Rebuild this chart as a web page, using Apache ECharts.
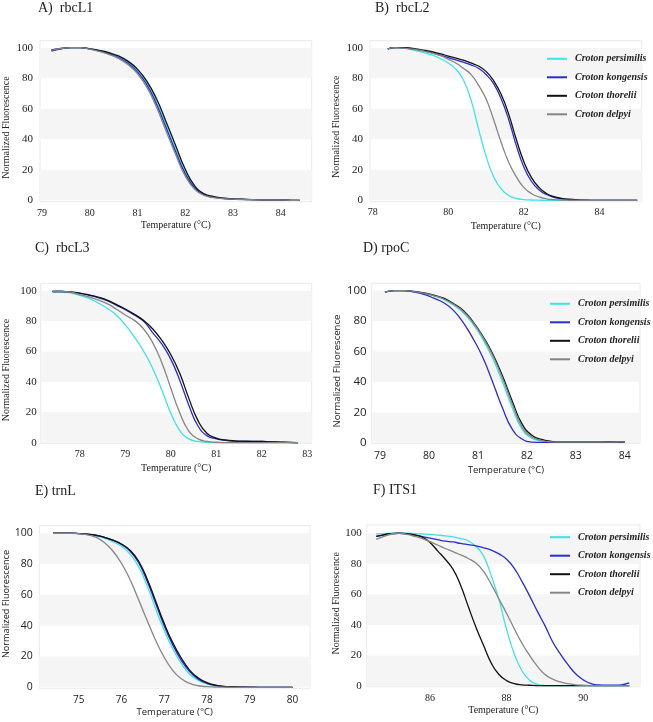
<!DOCTYPE html>
<html>
<head>
<meta charset="utf-8">
<script src="https://cdn.jsdelivr.net/npm/echarts@6/dist/echarts.min.js"></script>
<style>
html,body{margin:0;padding:0;background:#fff;}
#chart{width:653px;height:722px;}
</style>
</head>
<body>
<div id="chart"></div>
<script>
// ---------------- DATA ----------------
const seriesNames = ['Croton persimilis', 'Croton kongensis', 'Croton thorelii', 'Croton delpyi'];
const yTicks = [0, 20, 40, 60, 80, 100];

// A) rbcL1
const tempA = [79.2,79.4,79.6,79.8,80.0,80.2,80.4,80.6,80.8,81.0,81.2,81.4,81.6,81.8,82.0,82.2,82.4,82.6,82.8,83.0,83.2,83.4,83.6,83.8,84.0,84.2,84.4];
const persimilisA = [98.5,99.6,100,100,99.2,98,96.4,94,90.5,85,76.5,64.5,49,33.5,18.5,8.5,3.8,2.2,1.3,0.9,0.6,0.4,0.3,0.2,0.1,0.05,0];
const kongensisA  = [97.8,99.3,100,100,99.2,97.8,96,93.5,89.8,84.2,75.5,63,47.5,32,17.5,8,3.5,2,1.2,0.8,0.6,0.4,0.3,0.2,0.1,0.05,0];
const thoreliiA   = [98.5,99.5,100,100,99.3,98.3,96.8,94.6,91.2,86,78,66.5,51.5,36,20.5,9.5,4.2,2.5,1.5,1.0,0.7,0.5,0.3,0.2,0.1,0.05,0];
const delpyiA     = [98.3,99.5,100,100,99.1,97.6,95.6,93,89,83,74,61,45.5,30,16,7.2,3.2,1.8,1.1,0.8,0.5,0.4,0.3,0.2,0.1,0.05,0];
const xTicksA = [79, 80, 81, 82, 83, 84];

// B) rbcL2
const tempB = [78.4,78.6,78.8,79.0,79.2,79.4,79.6,79.8,80.0,80.2,80.4,80.6,80.8,81.0,81.2,81.4,81.6,81.8,82.0,82.2,82.4,82.6,82.8,83.0,83.2,83.4,83.6,83.8,84.0,84.2,84.4,84.6,84.8,85.0];
const persimilisB = [99.3,100,99.8,99,97.8,96.5,95,92.8,90,86,79,66,47,29,15.5,7.5,3.2,1.3,0.5,0.2,0.1,0,0,0,0,0,0,0,0,0,0,0,0,0];
const kongensisB  = [99.3,100,100,99.5,98.8,97.8,96.5,95,93.5,92,90.5,88.8,86.5,82.5,76.5,66.5,53,36,22,12.5,7,3.8,2,1,0.5,0.2,0,0,0,0,0,0,0,0];
const thoreliiB   = [99.3,100,100,99.7,99,98.2,97.2,96,94.5,93.2,91.8,90,88,84.5,78.5,69.5,56.5,40,25.5,15,8.5,4.5,2.4,1.3,0.7,0.3,0.1,0,0,0,0,0,0,0];
const delpyiB     = [99.3,100,99.8,99.2,98.5,97.5,96.3,94.8,92.5,90,86.5,82.5,75.5,66.5,53,38,25,15.5,8.5,4.5,2.2,1,0.4,0.2,0.1,0,0,0,0,0,0,0,0,0];
const xTicksB = [78, 80, 82, 84];

// C) rbcL3
const tempC = [77.4,77.6,77.8,78.0,78.2,78.4,78.6,78.8,79.0,79.2,79.4,79.6,79.8,80.0,80.2,80.4,80.6,80.8,81.0,81.2,81.4,81.6,81.8,82.0,82.2,82.4,82.6,82.8];
const persimilisC = [99.5,99.5,98.5,97,95,92,88.5,84,77.5,69.5,60.5,49,35,19.5,8,2.5,0.8,0.3,0,0,0,0,0,0,0,0,0,0];
const kongensisC  = [99.5,99.5,99.2,98.3,97,95.5,93.5,90.5,87.5,84,80,72.5,65,55,41,24.5,11,4.5,2.5,1.5,1,0.8,0.8,0.8,0.5,0.3,0.2,0];
const thoreliiC   = [99.5,99.5,99.2,98.5,97.3,95.8,93.8,91,88,84.5,80.5,75,67.5,58,45.5,29,14.5,6,3,1.8,1.2,1,0.9,0.9,0.6,0.4,0.2,0];
const delpyiC     = [99.5,99.5,99,97.5,96,94,91.5,88,84,80.5,75,66,53,36,19.5,7.5,2.5,0.8,0.3,0,0,0,0,0,0,0,0,0];
const xTicksC = [78, 79, 80, 81, 82, 83];

// D) rpoC
const tempD = [79.1,79.3,79.5,79.7,79.9,80.1,80.3,80.5,80.7,80.9,81.1,81.3,81.5,81.7,81.9,82.1,82.3,82.5,82.7,82.9,83.1,83.3,83.5,83.7,83.9,84.0];
const persimilisD = [99,100,100,99.3,98.2,96.5,94.2,90.5,85.5,78,68,55.5,40,23,9,3,1.2,0.6,0.4,0.4,0.4,0.4,0.4,0.5,0.5,0.6];
const kongensisD  = [99,100,100,99,97.5,95,92,87,79,68.5,56,40,23,9,2.5,0.5,0.3,0.3,0.3,0.3,0.3,0.3,0.3,0.4,0.4,0.5];
const thoreliiD   = [99,100,100,99.5,98.5,97,95,91.5,87,79.5,70,58.5,44,27.5,12.5,5,2.2,1,0.5,0.5,0.5,0.5,0.5,0.6,0.7,0.8];
const delpyiD     = [99,100,100,99.4,98.3,96.7,94.5,91,86.3,79,69.5,57.5,42.5,25.5,10.5,3.8,1.5,0.7,0.5,0.5,0.5,0.5,0.5,0.5,0.6,0.7];
const xTicksD = [79, 80, 81, 82, 83, 84];

// E) trnL
const tempE = [74.4,74.6,74.8,75.0,75.2,75.4,75.6,75.8,76.0,76.2,76.4,76.6,76.8,77.0,77.2,77.4,77.6,77.8,78.0,78.2,78.4,78.6,78.8,79.0,79.2,79.4,79.6,79.8,80.0];
const persimilisE = [100,100,100,99.8,99.3,98.4,96.8,94.5,91.5,86.5,78.5,66,51,37,25,15.5,8.5,4.5,2.2,1,0.4,0.2,0.1,0,0,0,0,0,0];
const kongensisE  = [100,100,100,99.8,99.4,98.7,97.4,95.5,92.8,88.5,81,69,54.5,40,27.5,17.5,10,5.3,2.6,1.2,0.5,0.2,0.1,0,0,0,0,0,0];
const thoreliiE   = [100,100,100,99.8,99.4,98.7,97.4,95.5,93,89,82,70.5,56,41.5,29,19,11,6,3,1.4,0.6,0.3,0.1,0.1,0,0,0,0,0];
const delpyiE     = [100,100,100,99.8,99,97.5,94,88.5,80.5,70,57,43.5,30.5,19.5,11,5.5,2.5,1,0.4,0.2,0.1,0,0,0,0,0,0,0,0];
const xTicksE = [75, 76, 77, 78, 79, 80];

// F) ITS1
const tempF = [84.6,84.8,85.0,85.2,85.4,85.6,85.8,86.0,86.2,86.4,86.6,86.8,87.0,87.2,87.4,87.6,87.8,88.0,88.2,88.4,88.6,88.8,89.0,89.2,89.4,89.6,89.8,90.0,90.2,90.4,90.6,90.8,91.0,91.2];
const persimilisF = [99.5,99.8,100,100,100,99.8,99.5,99.2,98.8,98.3,97.6,96.5,95,91.5,85,72,56.5,37,21,10,3.8,1,0.3,0.2,0.2,0.2,0.2,0.2,0.2,0.2,0.2,0.2,0.2,0.2];
const kongensisF  = [98,99,99.8,100,99.5,98.8,97.8,96.8,95.8,94.8,94.3,93.3,92.5,91.7,90.5,89,86.5,83,77,68.5,59,49,39.5,29,21,14,8,4,1.5,0.7,0.5,0.5,0.8,2];
const thoreliiF   = [98,99,99.8,100,99.8,99,97.5,94,88.5,83,76.5,66,52,38.5,26.5,15,7.5,3.5,1.6,0.8,0.5,0.3,0.3,0.3,0.3,0.3,0.3,0.3,0.3,0.3,0.3,0.3,0.3,0.3];
const delpyiF     = [96,98,99.5,100,99.3,98,96.5,94.5,92.3,90,88,85.8,83.5,80.5,75,66.5,57,47.5,37.5,28,20,13,7.5,4.5,2.7,1.5,0.8,0.5,0.3,0.3,0.3,0.3,0.3,0.3];
const xTicksF = [86, 88, 90];

// ---------------- STYLE / LAYOUT ----------------
const SERIF = '"Liberation Serif", "Times New Roman", serif';
const SANS = '"Open Sans", "Noto Sans", sans-serif';
const colors = ['#3fe3e3', '#2b2bd2', '#111111', '#858585'];
const TXT = '#222';

const panels = [
  { title: 'A)  rbcL1', tx: 38, ty: 1, grid: {left: 40, top: 40.7, width: 271.7, height: 161},
    xr: [78.96, 84.65], yr: [-0.9, 104.6], temp: tempA, ys: [persimilisA, kongensisA, thoreliiA, delpyiA], xt: xTicksA,
    font: SERIF, yLab: 11, xLab: 10, nameSize: 10, yMargin: 7, xMargin: 7, nameGap: 19, yName: [6.7, 127.5], legend: null },
  { title: 'B)  rbcL2', tx: 375, ty: 1, grid: {left: 370, top: 40.7, width: 271.7, height: 161},
    xr: [77.93, 85.12], yr: [-0.9, 104.6], temp: tempB, ys: [persimilisB, kongensisB, thoreliiB, delpyiB], xt: xTicksB,
    font: SERIF, yLab: 11, xLab: 10, nameSize: 10, yMargin: 7, xMargin: 6, nameGap: 19.5, yName: [336.7, 126.7], legend: [547, 52.3] },
  { title: 'C)  rbcL3', tx: 35, ty: 241, grid: {left: 40.7, top: 283.3, width: 271, height: 160},
    xr: [77.14, 83.1], yr: [-0.4, 104.9], temp: tempC, ys: [persimilisC, kongensisC, thoreliiC, delpyiC], xt: xTicksC,
    font: SERIF, yLab: 11, xLab: 10, nameSize: 10, yMargin: 4, xMargin: 6, nameGap: 20.5, yName: [6.7, 370], legend: null },
  { title: 'D) rpoC', tx: 363, ty: 241.5, grid: {left: 371.7, top: 283.3, width: 268.3, height: 160},
    xr: [78.83, 84.31], yr: [-0.3, 104.8], temp: tempD, ys: [persimilisD, kongensisD, thoreliiD, delpyiD], xt: xTicksD,
    font: SANS, yLab: 11.5, xLab: 10.5, nameSize: 9.5, nameSizeY: 9.6, yMargin: 5, xMargin: 7, nameGap: 22, yName: [337.7, 371], legend: [550, 297.3] },
  { title: 'E) trnL', tx: 35, ty: 484.5, grid: {left: 39.3, top: 525.7, width: 270.7, height: 162.6},
    xr: [74.08, 80.41], yr: [-0.65, 104.9], temp: tempE, ys: [persimilisE, kongensisE, thoreliiE, delpyiE], xt: xTicksE,
    font: SANS, yLab: 10.5, xLab: 10, nameSize: 9.5, nameSizeY: 9.2, yMargin: 6.5, xMargin: 7, nameGap: 19, yName: [6.7, 604], legend: null },
  { title: 'F) ITS1', tx: 373, ty: 483.5, grid: {left: 366.7, top: 525, width: 273.3, height: 161.7},
    xr: [84.35, 91.48], yr: [-0.46, 105.4], temp: tempF, ys: [persimilisF, kongensisF, thoreliiF, delpyiF], xt: xTicksF,
    font: SERIF, yLab: 11, xLab: 10, nameSize: 10, yMargin: 5, xMargin: 7, nameGap: 19, yName: [336.7, 603.3], legend: [550, 530.7] }
];

const near = (arr, v) => arr.some(t => Math.abs(t - v) < 1e-6);

const option = {
  animation: false,
  backgroundColor: '#ffffff',
  title: [], grid: [], xAxis: [], yAxis: [], series: [], legend: [], graphic: []
};

panels.forEach((p, i) => {
  option.title.push({
    text: p.title, left: p.tx, top: p.ty, padding: 0,
    textStyle: { fontFamily: SERIF, fontSize: 14, fontWeight: 'normal', color: TXT }
  });
  option.grid.push(Object.assign({ show: true, borderColor: '#e9e9e9', borderWidth: 1, backgroundColor: 'transparent', containLabel: false }, p.grid));
  option.xAxis.push({
    type: 'value', gridIndex: i, min: p.xr[0], max: p.xr[1], splitNumber: 5,
    name: 'Temperature (°C)', nameLocation: 'middle', nameGap: p.nameGap,
    nameTextStyle: { fontFamily: p.font, fontSize: p.nameSize, color: TXT },
    axisLine: { show: false }, axisTick: { show: false }, splitLine: { show: false },
    axisLabel: { margin: p.xMargin, fontFamily: p.font, fontSize: p.xLab, color: TXT,
      formatter: (v) => near(p.xt, v) ? String(Math.round(v)) : '' }
  });
  option.yAxis.push({
    type: 'value', gridIndex: i, min: p.yr[0], max: p.yr[1], splitNumber: 5,
    axisLine: { show: false }, axisTick: { show: false }, splitLine: { show: false },
    axisLabel: { margin: p.yMargin, fontFamily: p.font, fontSize: p.yLab, color: TXT,
      formatter: (v) => near(yTicks, v) ? String(Math.round(v)) : '' }
  });
  // background bands
  option.series.push({
    type: 'line', xAxisIndex: i, yAxisIndex: i, data: [], silent: true,
    markArea: { silent: true, itemStyle: { color: '#f5f5f5' },
      data: [[{ yAxis: 0 }, { yAxis: 20 }], [{ yAxis: 40 }, { yAxis: 60 }], [{ yAxis: 80 }, { yAxis: 100 }]] }
  });
  seriesNames.forEach((nm, k) => {
    option.series.push({
      type: 'line', name: nm, xAxisIndex: i, yAxisIndex: i,
      data: p.temp.map((t, j) => [t, p.ys[k][j]]),
      smooth: 0.5, showSymbol: false, symbol: 'none',
      lineStyle: { color: colors[k], width: 1.3 }, itemStyle: { color: colors[k] },
      z: 3 + k
    });
  });
  if (p.legend) {
    option.legend.push({
      data: seriesNames, orient: 'vertical', left: p.legend[0], top: p.legend[1], padding: 0,
      icon: 'rect', itemWidth: 20, itemHeight: 2, itemGap: 5.5,
      textStyle: { fontFamily: SERIF, fontStyle: 'italic', fontWeight: 'bold', fontSize: 10, color: TXT, lineHeight: 13, padding: [0, 0, 0, 3] },
      selectedMode: false
    });
  }
  option.graphic.push({
    type: 'text', x: p.yName[0], y: p.yName[1], rotation: Math.PI / 2,
    style: { text: 'Normalized Fluorescence', font: (p.nameSizeY || p.nameSize) + 'px ' + p.font, fill: TXT,
      align: 'center', verticalAlign: 'middle', textAlign: 'center', textVerticalAlign: 'middle' }
  });
});

const chart = echarts.init(document.getElementById('chart'), null, { renderer: 'canvas' });
chart.setOption(option);
</script>
</body>
</html>
